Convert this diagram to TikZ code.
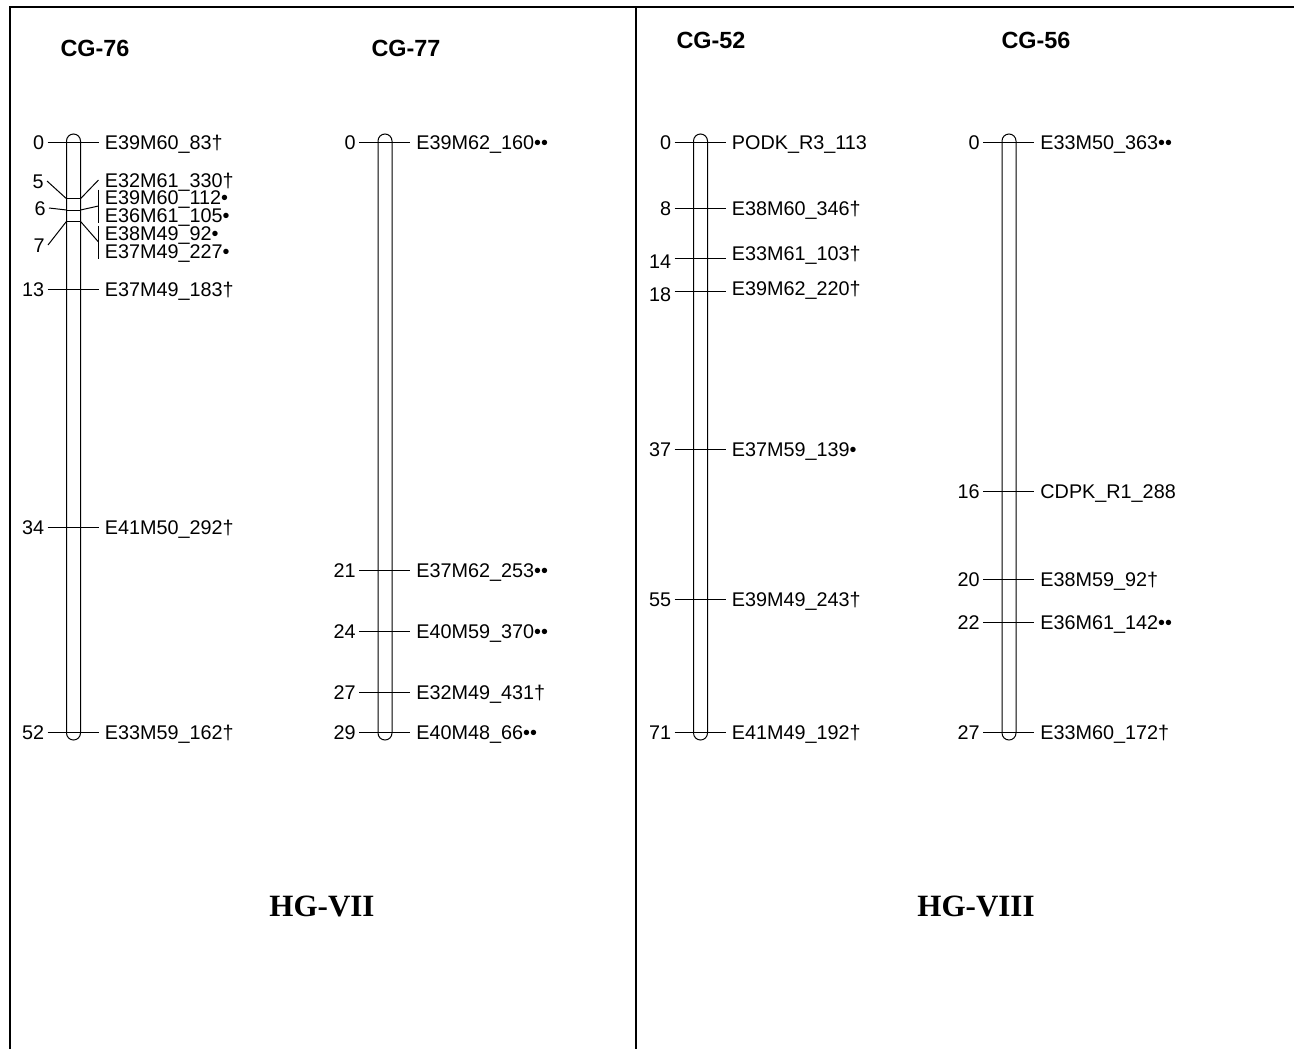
\documentclass[tikz,border=0pt]{standalone}
\usepackage{fontspec}
\setmainfont{Liberation Sans}
\newfontfamily\hgfont{Liberation Serif}
\usetikzlibrary{calc}

\tikzset{
  frame/.style={line width=1pt},
  chrom/.style={line width=0.5pt, rounded corners=3.5pt},
  tick/.style={line width=0.5pt},
  num/.style={anchor=east, inner sep=0pt, inner xsep=1.5pt, text height=7.1pt, text depth=0pt,
    font=\fontsize{9.9}{11}\selectfont},
  mklabel/.style={anchor=west, inner sep=0pt, inner xsep=3pt, text height=7.1pt, text depth=0pt,
    font=\fontsize{9.9}{11}\selectfont},
  cgtitle/.style={font=\fontsize{11.7}{14}\selectfont\bfseries},
  hgtitle/.style={font=\fontsize{15.5}{18}\selectfont\hgfont\bfseries},
}

\begin{document}
\begin{tikzpicture}[x=0.5pt, y=-0.5pt]
\useasboundingbox (0,0) rectangle (1294,1049);

% panels
\draw[frame] (10,1049) -- (10,7) -- (1294,7);
\draw[frame] (636,7) -- (636,1049);

% group titles
\node[cgtitle] (t76) at (95,48.5) {CG-76};
\node[cgtitle] (t77) at (406,48.5) {CG-77};
\node[cgtitle] (t52) at (711,40) {CG-52};
\node[cgtitle] (t56) at (1036,40) {CG-56};
\node[hgtitle] (hg7) at (322,906) {HG-VII};
\node[hgtitle] (hg8) at (976,906) {HG-VIII};

% chromosome bars
\draw[chrom] (66.5,134) rectangle (80.5,740);
\draw[chrom] (378,134) rectangle (392,740);
\draw[chrom] (693.5,134) rectangle (707.5,740);
\draw[chrom] (1002,134) rectangle (1016,740);

% CG-76
\foreach \n/\y/\lbl in {0/142/E39M60\_83†, 13/289.5/E37M49\_183†,
    34/527.8/E41M50\_292†, 52/732/E33M59\_162†}{
  \node[num] (n76-\n) at (47.5,\y) {\n};
  \node[mklabel] (m76-\n) at (98.5,\y) {\lbl};
  \draw[tick] (n76-\n) -- (m76-\n);
}
% CG-76, markers at 5, 6 and 7
\foreach \n/\y in {5/198.7, 6/210, 7/221.4}{
  \coordinate (l76-\n) at (66.5,\y);
  \coordinate (r76-\n) at (80.5,\y);
  \draw[tick] (l76-\n) -- (r76-\n);
}
\node[num] (n76-5) at (47,181) {5};
\node[num] (n76-6) at (49,208) {6};
\node[num] (n76-7) at (48,245) {7};
\node[mklabel] (m76-5) at (98.5,180) {E32M61\_330†};
\node[mklabel] (m76-6a) at (98.5,197) {E39M60\_112•};
\node[mklabel] (m76-6b) at (98.5,215) {E36M61\_105•};
\node[mklabel] (m76-7a) at (98.5,233) {E38M49\_92•};
\node[mklabel] (m76-7b) at (98.5,251) {E37M49\_227•};
\draw[tick] (n76-5.east) -- (l76-5);
\draw[tick] (n76-6.east) -- (l76-6);
\draw[tick] (n76-7.east) -- (l76-7);
\draw[tick] (r76-5) -- (m76-5.west);
\draw[tick] (r76-6) -- ($(m76-6a.west)!0.5!(m76-6b.west)$);
\draw[tick] (r76-7) -- ($(m76-7a.west)!0.5!(m76-7b.west)$);
\draw[tick] (m76-6a.north west) -- (m76-6b.south west);
\draw[tick] (m76-7a.north west) -- (m76-7b.south west);

% CG-77
\foreach \n/\y/\lbl in {0/142/E39M62\_160••, 21/570.5/E37M62\_253••,
    24/631.5/E40M59\_370••, 27/692.5/E32M49\_431†, 29/732/E40M48\_66••}{
  \node[num] (n77-\n) at (359,\y) {\n};
  \node[mklabel] (m77-\n) at (410,\y) {\lbl};
  \draw[tick] (n77-\n) -- (m77-\n);
}

% CG-52
\foreach \n/\y/\dn/\dl/\lbl in {0/142/0/0/PODK\_R3\_113, 8/208.5/0/0/E38M60\_346†,
    14/258.3/3/-5/E33M61\_103†, 18/291.6/3/-3/E39M62\_220†,
    37/449.5/0/0/E37M59\_139•, 55/599.1/0/0/E39M49\_243†, 71/732/0/0/E41M49\_192†}{
  \coordinate (p52-\n) at (700.5,\y);
  \node[num] (n52-\n) at (674.5,{\y+\dn}) {\n};
  \node[mklabel] (m52-\n) at (725.5,{\y+\dl}) {\lbl};
  \draw[tick] (n52-\n.east |- p52-\n) -- (m52-\n.west |- p52-\n);
}

% CG-56
\foreach \n/\y/\lbl in {0/142/E33M50\_363••, 16/491.6/CDPK\_R1\_288,
    20/579/E38M59\_92†, 22/622.7/E36M61\_142••, 27/732/E33M60\_172†}{
  \node[num] (n56-\n) at (983,\y) {\n};
  \node[mklabel] (m56-\n) at (1034,\y) {\lbl};
  \draw[tick] (n56-\n) -- (m56-\n);
}
\end{tikzpicture}
\end{document}
